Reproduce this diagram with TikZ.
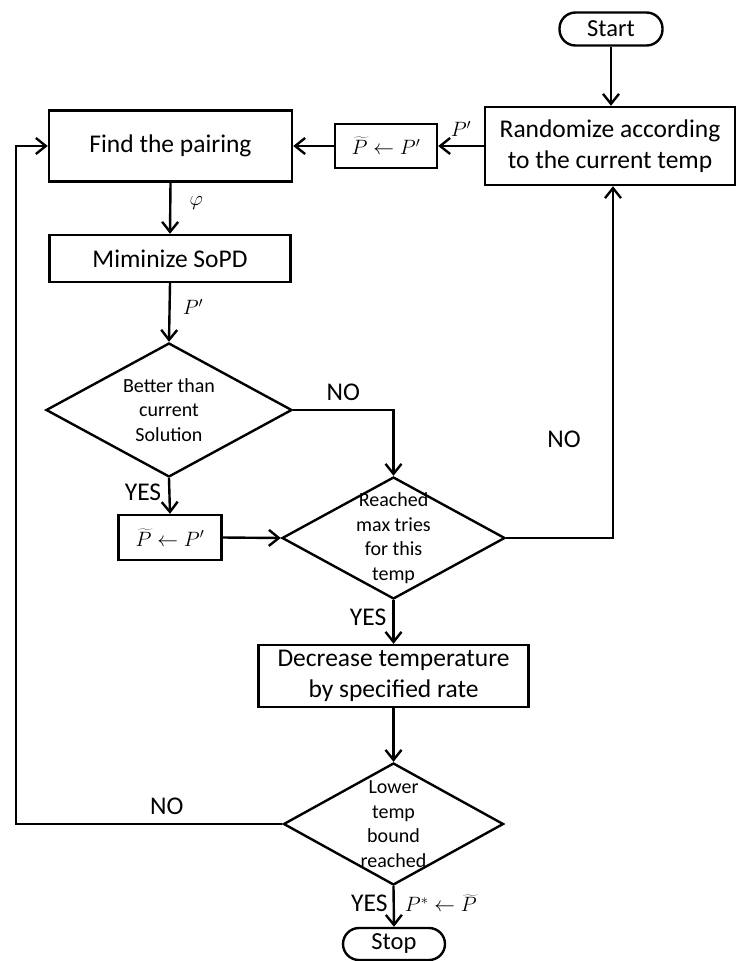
\documentclass[tikz,border=0pt]{standalone}
\usepackage{fontspec}
\setmainfont{Carlito}
\usetikzlibrary{arrows.meta,shapes.geometric}
\begin{document}
\begin{tikzpicture}[x=1pt,y=-1pt,line width=2.4pt,
  box/.style={draw,rectangle,inner sep=0pt,align=center,font=\fontsize{25.5}{31.5}\selectfont},
  term/.style={draw,rectangle,rounded corners=16pt,inner sep=0pt,font=\fontsize{24.5}{28}\selectfont},
  assign/.style={draw,rectangle,inner sep=0pt,font=\fontsize{22}{26}\selectfont},
  dia/.style={draw,diamond,inner sep=0pt},
  diatext/.style={align=center,inner sep=0pt,font=\fontsize{20}{24.5}\selectfont},
  arr/.style={-{Straight Barb[length=10pt,width=16pt,line width=2.4pt]}},
  lbl/.style={inner sep=1pt,font=\fontsize{25.5}{30}\selectfont},
  mlbl/.style={inner sep=1pt,font=\fontsize{22}{26}\selectfont}]
\useasboundingbox (0,0) rectangle (736,961);
\fill[white] (0,0) rectangle (736,961);

\node[term,minimum width=103pt,minimum height=33pt] (start) at (611,29) {Start};
\node[box,minimum width=250pt,minimum height=78pt] (rand) at (610,146) {Randomize according\\to the current temp};
\node[assign,minimum width=102pt,minimum height=44pt] (asg1) at (386,146) {$\widetilde{P}\leftarrow P'$};
\node[box,minimum width=243pt,minimum height=71pt] (find) at (170.5,146) {Find the pairing};
\node[box,minimum width=241pt,minimum height=47pt] (mini) at (170,258.5) {Miminize SoPD};
\node[dia,minimum width=246pt,minimum height=134pt] (d1) at (169,410) {};
\node[diatext] at (d1) {Better than\\current\\Solution};
\node[assign,minimum width=103pt,minimum height=45pt] (asg2) at (170,537.5) {$\widetilde{P}\leftarrow P'$};
\node[dia,minimum width=223pt,minimum height=122pt] (d2) at (393.5,538) {};
\node[diatext] at (d2) {Reached\\max tries\\for this\\temp};
\node[box,minimum width=270pt,minimum height=62pt] (dec) at (393.5,676) {Decrease temperature\\by specified rate};
\node[dia,minimum width=220pt,minimum height=122pt] (d3) at (393.5,824) {};
\node[diatext] at (d3) {Lower\\temp\\bound\\reached};
\node[term,minimum width=102pt,minimum height=32pt] (stop) at (394,944) {Stop};
\coordinate (lp) at (16,824);

\draw[arr] (start.south) -- (start.south |- rand.north);
\draw[arr] (rand.west) -- (asg1.east) node[midway,above=7pt,mlbl] {$P'$};
\draw[arr] (asg1.west) -- (find.east);
\draw[arr] (find.south) -- (mini.north) node[pos=0.4,right=17pt,mlbl] {$\varphi$};
\draw[arr] (mini.south) -- (d1.north) node[pos=0.41,right=11pt,mlbl] {$P'$};
\draw[arr] (d1.south) -- (asg2.north) node[pos=0.4,left=6pt,lbl] {YES};
\draw[arr] (asg2.east) -- (d2.west);
\draw[arr] (d1.east) -| (d2.north) node[pos=0.25,above=7pt,lbl] {NO};
\draw[arr] (d2.east) -| ([xshift=3pt]rand.south) node[pos=0.64,left=30pt,lbl] {NO};
\draw[arr] (d2.south) -- (dec.north) node[pos=0.39,left=5pt,lbl] {YES};
\draw[arr] (dec.south) -- (d3.north);
\draw[arr] (d3.west) -- (lp) node[pos=0.434,above=7pt,lbl] {NO} |- (find.west);
\draw[arr] (d3.south) -- (stop.north)
  node[pos=0.42,left=4pt,lbl] {YES}
  node[pos=0.42,right=9pt,mlbl] {$P^{*}\leftarrow\widetilde{P}$};
\end{tikzpicture}
\end{document}
